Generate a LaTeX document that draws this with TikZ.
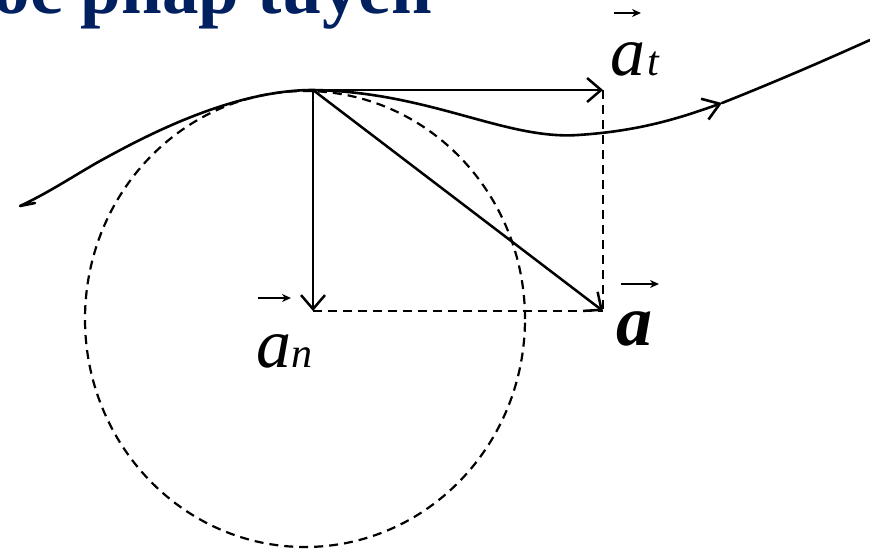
\documentclass[tikz,border=0pt]{standalone}
\usepackage{fontspec}
\setmainfont{Liberation Serif}
\usetikzlibrary{arrows.meta}
\definecolor{titleblue}{HTML}{002060}
\begin{document}
\begin{tikzpicture}[x=1pt,y=-1pt,
  vec/.style={line width=2.5pt,-{Straight Barb[length=14pt,width=24pt,line width=2.5pt]}},
  guide/.style={line width=2.2pt,dash pattern=on 9pt off 6pt},
  path/.style={line width=2.6pt,line cap=round,line join=round},
  tiny/.style={line width=1.6pt,-{Stealth[length=9pt,width=8pt]}},
  lbl/.style={inner sep=0pt,anchor=base west,font=\fontsize{70}{70}\selectfont\itshape}]
\useasboundingbox (0,0) rectangle (870,554);
\node[anchor=base east,inner sep=0pt,text=titleblue,font=\fontsize{73}{73}\selectfont\bfseries] (title) at (432,13) {Gia tốc pháp tuyến};
% key points
\coordinate (P) at (313,90);
\coordinate (T) at (603,90);
\coordinate (N) at (313,311);
\coordinate (A) at (603,311);
\coordinate (C) at (305,319);
% dashed circle
\draw[guide] (C) ellipse [x radius=220pt, y radius=228pt];
% dashed guides
\draw[guide] (T) -- (A);
\draw[guide] (N) -- (A);
% trajectory
\coordinate (h0) at (35,203);
\coordinate (h1) at (20,206);
\coordinate (q) at (100,161);
\coordinate (m) at (578,135);
\coordinate (k) at (722,103);
\coordinate (e) at (870,40);
\draw[path] (h0) -- (h1) .. controls (50,192) and (75,175) .. (q)
  .. controls (140,139) and (230,90) .. (P)
  .. controls (430,92) and (505,140) .. (m);
\draw[path,-{Straight Barb[length=16pt,width=22pt,line width=2.6pt]}] (m) .. controls (640,131) and (680,118) .. (k);
\draw[path] (k) .. controls (780,80) and (830,58) .. (e);
% vectors
\draw[vec] (P) -- (T);
\draw[vec] (P) -- (N);
\draw[vec] (P) -- (A);
% labels
\node[lbl] (lt) at (610,75) {a\kern2pt{\fontsize{42}{42}\selectfont t}};
\node[lbl] (ln) at (256,367) {a{\fontsize{42}{42}\selectfont n}};
\node[lbl,font=\fontsize{72}{72}\selectfont\bfseries\itshape] (la) at (616,345) {a};
\coordinate (t1) at (614,13); \coordinate (t2) at (641,13);
\coordinate (n1) at (258,298); \coordinate (n2) at (291,298);
\coordinate (a1) at (621,284); \coordinate (a2) at (659,284);
\draw[tiny] (t1) -- (t2);
\draw[tiny] (n1) -- (n2);
\draw[tiny,line width=2pt] (a1) -- (a2);
\end{tikzpicture}
\end{document}
